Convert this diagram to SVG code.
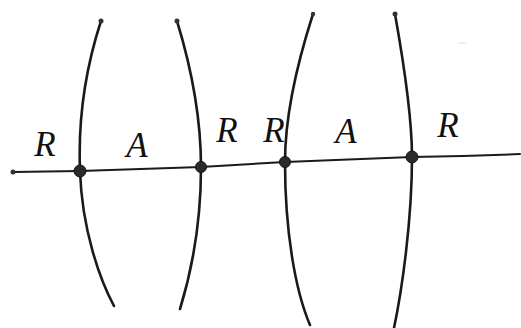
<svg xmlns="http://www.w3.org/2000/svg" width="521" height="328" viewBox="0 0 521 328">
<style>
.ln{fill:none;stroke:#1a1a1a;stroke-linecap:round;stroke-linejoin:round}
.cv{stroke-width:2.6}
.ax{stroke-width:2}
.dot{fill:#2a2a2a;stroke:#111;stroke-width:1}
.end{fill:#333}
.lbl{font-family:"Liberation Serif",serif;font-style:italic;font-size:35px;fill:#111;text-anchor:middle}
</style>
<rect width="521" height="328" fill="#fff"/>
<g id="connectors">
<path class="ln cv" d="M101,21 C85,70 78,120 80,171 C82,230 100,280 114,306"/>
<path class="ln cv" d="M177,21 C192,70 201,120 201,167 C201,220 192,270 180,309"/>
<path class="ln cv" d="M313,14 C295,70 285,120 285,162 C285,230 295,290 310,325"/>
<path class="ln cv" d="M395,14 C405,70 412,120 412,157 C412,220 402,290 394,328"/>
<path class="ln ax" d="M13,172 L80,171 L201,167 L285,162 L412,157 Q470,156 520,154"/>
</g>
<g id="ends">
<circle class="end" cx="101" cy="21" r="2.5"/>
<circle class="end" cx="177" cy="21" r="2.5"/>
<circle class="end" cx="313" cy="14" r="2.2"/>
<circle class="end" cx="395" cy="14" r="2.5"/>
<circle class="end" cx="13" cy="172" r="2.5"/>
</g>
<g id="n1"><circle class="dot" cx="80" cy="171" r="6"/></g>
<g id="n2"><circle class="dot" cx="201" cy="167" r="5.5"/></g>
<g id="n3"><circle class="dot" cx="285" cy="162" r="5.5"/></g>
<g id="n4"><circle class="dot" cx="412" cy="157" r="6"/></g>
<g id="labels">
<text class="lbl" x="45" y="156">R</text>
<text class="lbl" x="137" y="157">A</text>
<text class="lbl" x="227" y="142">R</text>
<text class="lbl" x="274" y="142">R</text>
<text class="lbl" x="346" y="143">A</text>
<text class="lbl" x="448" y="137">R</text>
</g>
<path d="M459,43 h7" stroke="#bbb" stroke-width="1" stroke-dasharray="1.5,1.5"/>
</svg>
